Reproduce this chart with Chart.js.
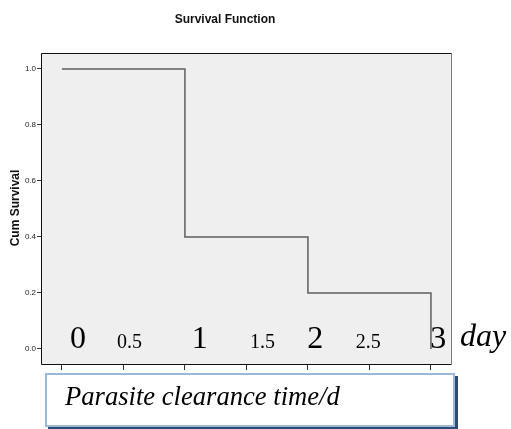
<!DOCTYPE html>
<html>
<head>
<meta charset="utf-8">
<script src="https://cdn.jsdelivr.net/npm/chart.js@4"></script>
<style>
  html, body { margin: 0; padding: 0; background: #fff; }
  canvas { display: block; }
</style>
</head>
<body>
<canvas id="survivalChart" width="511" height="429"></canvas>
<script>
// survival data
const times = [0, 1, 2, 3];
const survival = [1.0, 0.4, 0.2, 0.0];

// x axis tick marks and the text labels inside the plot
const xTicks = [0, 0.5, 1, 1.5, 2, 2.5, 3];
const dayLabels = ['0', '0.5', '1', '1.5', '2', '2.5', '3'];
const dayLabelAt = [0.13, 0.55, 1.12, 1.63, 2.06, 2.49, 3.06];
const yTicks = [0, 0.2, 0.4, 0.6, 0.8, 1.0];

const titleText = 'Survival Function';
const yTitle = 'Cum Survival';
const unitText = 'day';
const boxText = 'Parasite clearance time/d';

const overlay = {
  id: 'overlay',
  beforeDraw(chart) {
    const { ctx, chartArea: a } = chart;
    ctx.save();
    ctx.fillStyle = '#fff';
    ctx.fillRect(0, 0, chart.width, chart.height);
    ctx.fillStyle = '#efefef';
    ctx.fillRect(a.left, a.top, a.right - a.left, a.bottom - a.top);
    ctx.restore();
  },
  afterDraw(chart) {
    const { ctx, chartArea: a } = chart;
    const x = chart.scales.x;
    ctx.save();

    // plot frame
    ctx.lineWidth = 1;
    ctx.strokeStyle = '#111';
    ctx.beginPath();
    ctx.moveTo(a.right, a.top + 0.5);
    ctx.lineTo(a.left + 0.5, a.top + 0.5);
    ctx.lineTo(a.left + 0.5, a.bottom + 0.5);
    ctx.lineTo(a.right, a.bottom + 0.5);
    ctx.stroke();
    ctx.strokeStyle = '#777';
    ctx.beginPath();
    ctx.moveTo(a.right + 0.5, a.top);
    ctx.lineTo(a.right + 0.5, a.bottom + 1);
    ctx.stroke();

    // title
    ctx.fillStyle = '#111';
    ctx.font = 'bold 12px "Liberation Sans", Arial, sans-serif';
    ctx.textAlign = 'center';
    ctx.textBaseline = 'alphabetic';
    ctx.fillText(titleText, 225, 23);

    // y axis title
    ctx.save();
    ctx.translate(19, 208);
    ctx.rotate(-Math.PI / 2);
    ctx.font = 'bold 12px "Liberation Sans", Arial, sans-serif';
    ctx.fillText(yTitle, 0, 0);
    ctx.restore();

    // big serif labels inside the plot
    ctx.fillStyle = '#000';
    ctx.textAlign = 'center';
    dayLabels.forEach((t, i) => {
      const big = !t.includes('.');
      ctx.font = (big ? '32px' : '20px') + ' "Liberation Serif", "Times New Roman", serif';
      ctx.fillText(t, x.getPixelForValue(dayLabelAt[i]), 348);
    });
    ctx.font = 'italic 32px "Liberation Serif", "Times New Roman", serif';
    ctx.textAlign = 'left';
    ctx.fillText(unitText, 460, 346);

    // axis caption box
    const bx = 45, by = 373, bw = 410, bh = 54;
    ctx.fillStyle = '#2f4b70';
    ctx.fillRect(bx + 3, by + 3, bw, bh);
    ctx.fillStyle = '#fff';
    ctx.fillRect(bx, by, bw, bh);
    ctx.strokeStyle = '#9cb9dc';
    ctx.lineWidth = 2;
    ctx.strokeRect(bx + 1, by + 1, bw - 2, bh - 2);
    ctx.fillStyle = '#000';
    ctx.font = 'italic 26.6px "Liberation Serif", "Times New Roman", serif';
    ctx.fillText(boxText, 65, 405);

    ctx.restore();
  }
};

new Chart(document.getElementById('survivalChart'), {
  type: 'line',
  data: {
    datasets: [{
      data: times.map((t, i) => ({ x: t, y: survival[i] })),
      stepped: 'before',
      borderColor: '#5e5e5e',
      borderWidth: 1.5,
      pointRadius: 0,
      fill: false
    }]
  },
  options: {
    responsive: false,
    animation: false,
    layout: { padding: { top: 53, right: 60, left: 0, bottom: 0 } },
    plugins: { legend: { display: false }, tooltip: { enabled: false } },
    scales: {
      x: {
        type: 'linear',
        min: -0.17,
        max: 3.163,
        afterBuildTicks: s => { s.ticks = xTicks.map(v => ({ value: v })); },
        afterFit: s => { s.height = 65; },
        ticks: { display: false },
        border: { display: false },
        grid: { drawOnChartArea: false, drawTicks: true, tickLength: 6, color: '#333' }
      },
      y: {
        min: -0.0536,
        max: 1.057,
        afterBuildTicks: s => { s.ticks = yTicks.map(v => ({ value: v })); },
        afterFit: s => { s.width = 41; },
        ticks: {
          callback: v => v.toFixed(1),
          font: { size: 8, family: '"Liberation Sans", Arial, sans-serif' },
          color: '#222',
          padding: 1
        },
        border: { display: false },
        grid: { drawOnChartArea: false, drawTicks: true, tickLength: 4, color: '#333' }
      }
    }
  },
  plugins: [overlay]
});
</script>
</body>
</html>
